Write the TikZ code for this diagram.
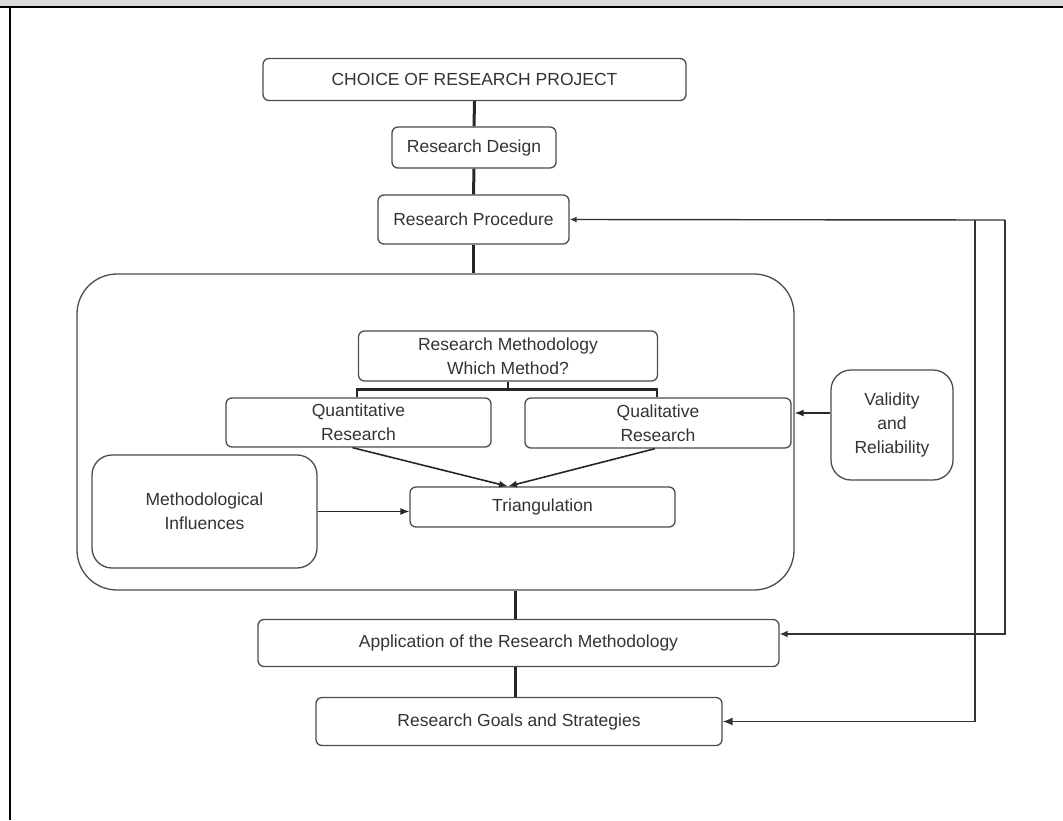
\documentclass[tikz,border=0pt]{standalone}
\usepackage{fontspec}
\setmainfont{Liberation Sans}
\usepackage{tikz}
\usetikzlibrary{positioning,
                arrows.meta,
                calc}

\begin{document}
\begin{tikzpicture}
[x=1pt,y=-1pt,line cap=butt,
box/.style={draw=boxcolor,line width=1.3pt,rounded corners=6pt,inner sep=0pt,
  align=center,text=textcolor,font=\fontsize{17.5}{24}\selectfont},
round box/.style={box,rounded corners=20pt},
main line/.style={line width=3pt,draw=black!85},
fork line/.style={line width=2.4pt,draw=black!85},
arrow line/.style={line width=1.6pt,draw=black!85,-{Latex[length=9pt,width=7pt]}},
feedback line/.style={line width=1.4pt,draw=black!80,-{Latex[length=10pt,width=8pt]}}]
% Colors
\colorlet{boxcolor}{black!70}
\colorlet{textcolor}{black!80}
% The frame
\useasboundingbox (0,0) rectangle (1063,820);
\fill[black!15] (0,0) rectangle (1063,7);
\draw[line width=2pt] (0,7) -- (1063,7);
\draw[line width=2.5pt] (10,7) -- (10,820);
% The graphic
\node[box,minimum width=423pt,minimum height=42pt] (choice) at (474.5,79.5)
  {CHOICE OF RESEARCH PROJECT};
\node[box,minimum width=164pt,minimum height=41pt] (design) at (474,147.5)
  {Research Design};
\node[box,minimum width=191pt,minimum height=49pt] (proc) at (473.5,219.5)
  {Research Procedure};
\node[box,rounded corners=40pt,minimum width=717pt,minimum height=316pt] (frame) at (435.5,432) {};
\node[box,minimum width=299pt,minimum height=50pt] (method) at (508,356)
  {Research Methodology\\Which Method?};
\node[box,minimum width=265pt,minimum height=49pt] (quant) at (358.5,422.5)
  {Quantitative\\Research};
\node[box,minimum width=266pt,minimum height=50pt] (qual) at (658,423)
  {Qualitative\\Research};
\node[box,minimum width=265pt,minimum height=40pt] (tri) at (542.5,507)
  {Triangulation};
\node[round box,minimum width=225pt,minimum height=113pt] (infl) at (204.5,511.5)
  {Methodological\\Influences};
\node[round box,minimum width=122pt,minimum height=110pt] (valid) at (892,425)
  {Validity\\and\\Reliability};
\node[box,minimum width=521pt,minimum height=47pt] (appl) at (518.5,643)
  {Application of the Research Methodology};
\node[box,minimum width=406pt,minimum height=48pt] (goals) at (519,721.5)
  {Research Goals and Strategies};
% Main chain
\draw[main line] (choice.south) -- (design.north);
\draw[main line] (design.south) -- (proc.north);
\draw[main line] (proc.south) -- (proc.south |- frame.north);
\draw[main line] (frame.south -| 515,0) -- (appl.north -| 515,0);
\draw[main line] (appl.south -| 515,0) -- (goals.north -| 515,0);
% Inside the methodology frame
\draw[fork line] (method.south) -- ++(0,8) coordinate (fork);
\draw[fork line] (fork) -| (quant.north -| 357,0);
\draw[fork line] (fork) -| (qual.north -| 657,0);
\draw[arrow line] ([xshift=-6pt]quant.south) -- (tri.north -| method.south);
\draw[arrow line] ([xshift=-3pt]qual.south) -- (tri.north -| method.south);
\draw[arrow line,line width=1.3pt] (infl.east) -- (infl.east -| tri.west);
\draw[arrow line,line width=1.3pt] ([yshift=12pt]valid.west) -- ([yshift=12pt]valid.west -| frame.east);
% Feedback lines
\coordinate (fb out) at (1005,220);
\coordinate (fb in) at (975,220);
\draw[feedback line,-{Latex[length=7pt,width=6pt]}] (fb out) -- (proc.east);
\draw[feedback line,-{Latex[length=8pt,width=7pt]}] (fb out) |- ([yshift=9pt]appl.east);
\draw[feedback line] (fb in) |- (goals.east);
\end{tikzpicture}
\end{document}
